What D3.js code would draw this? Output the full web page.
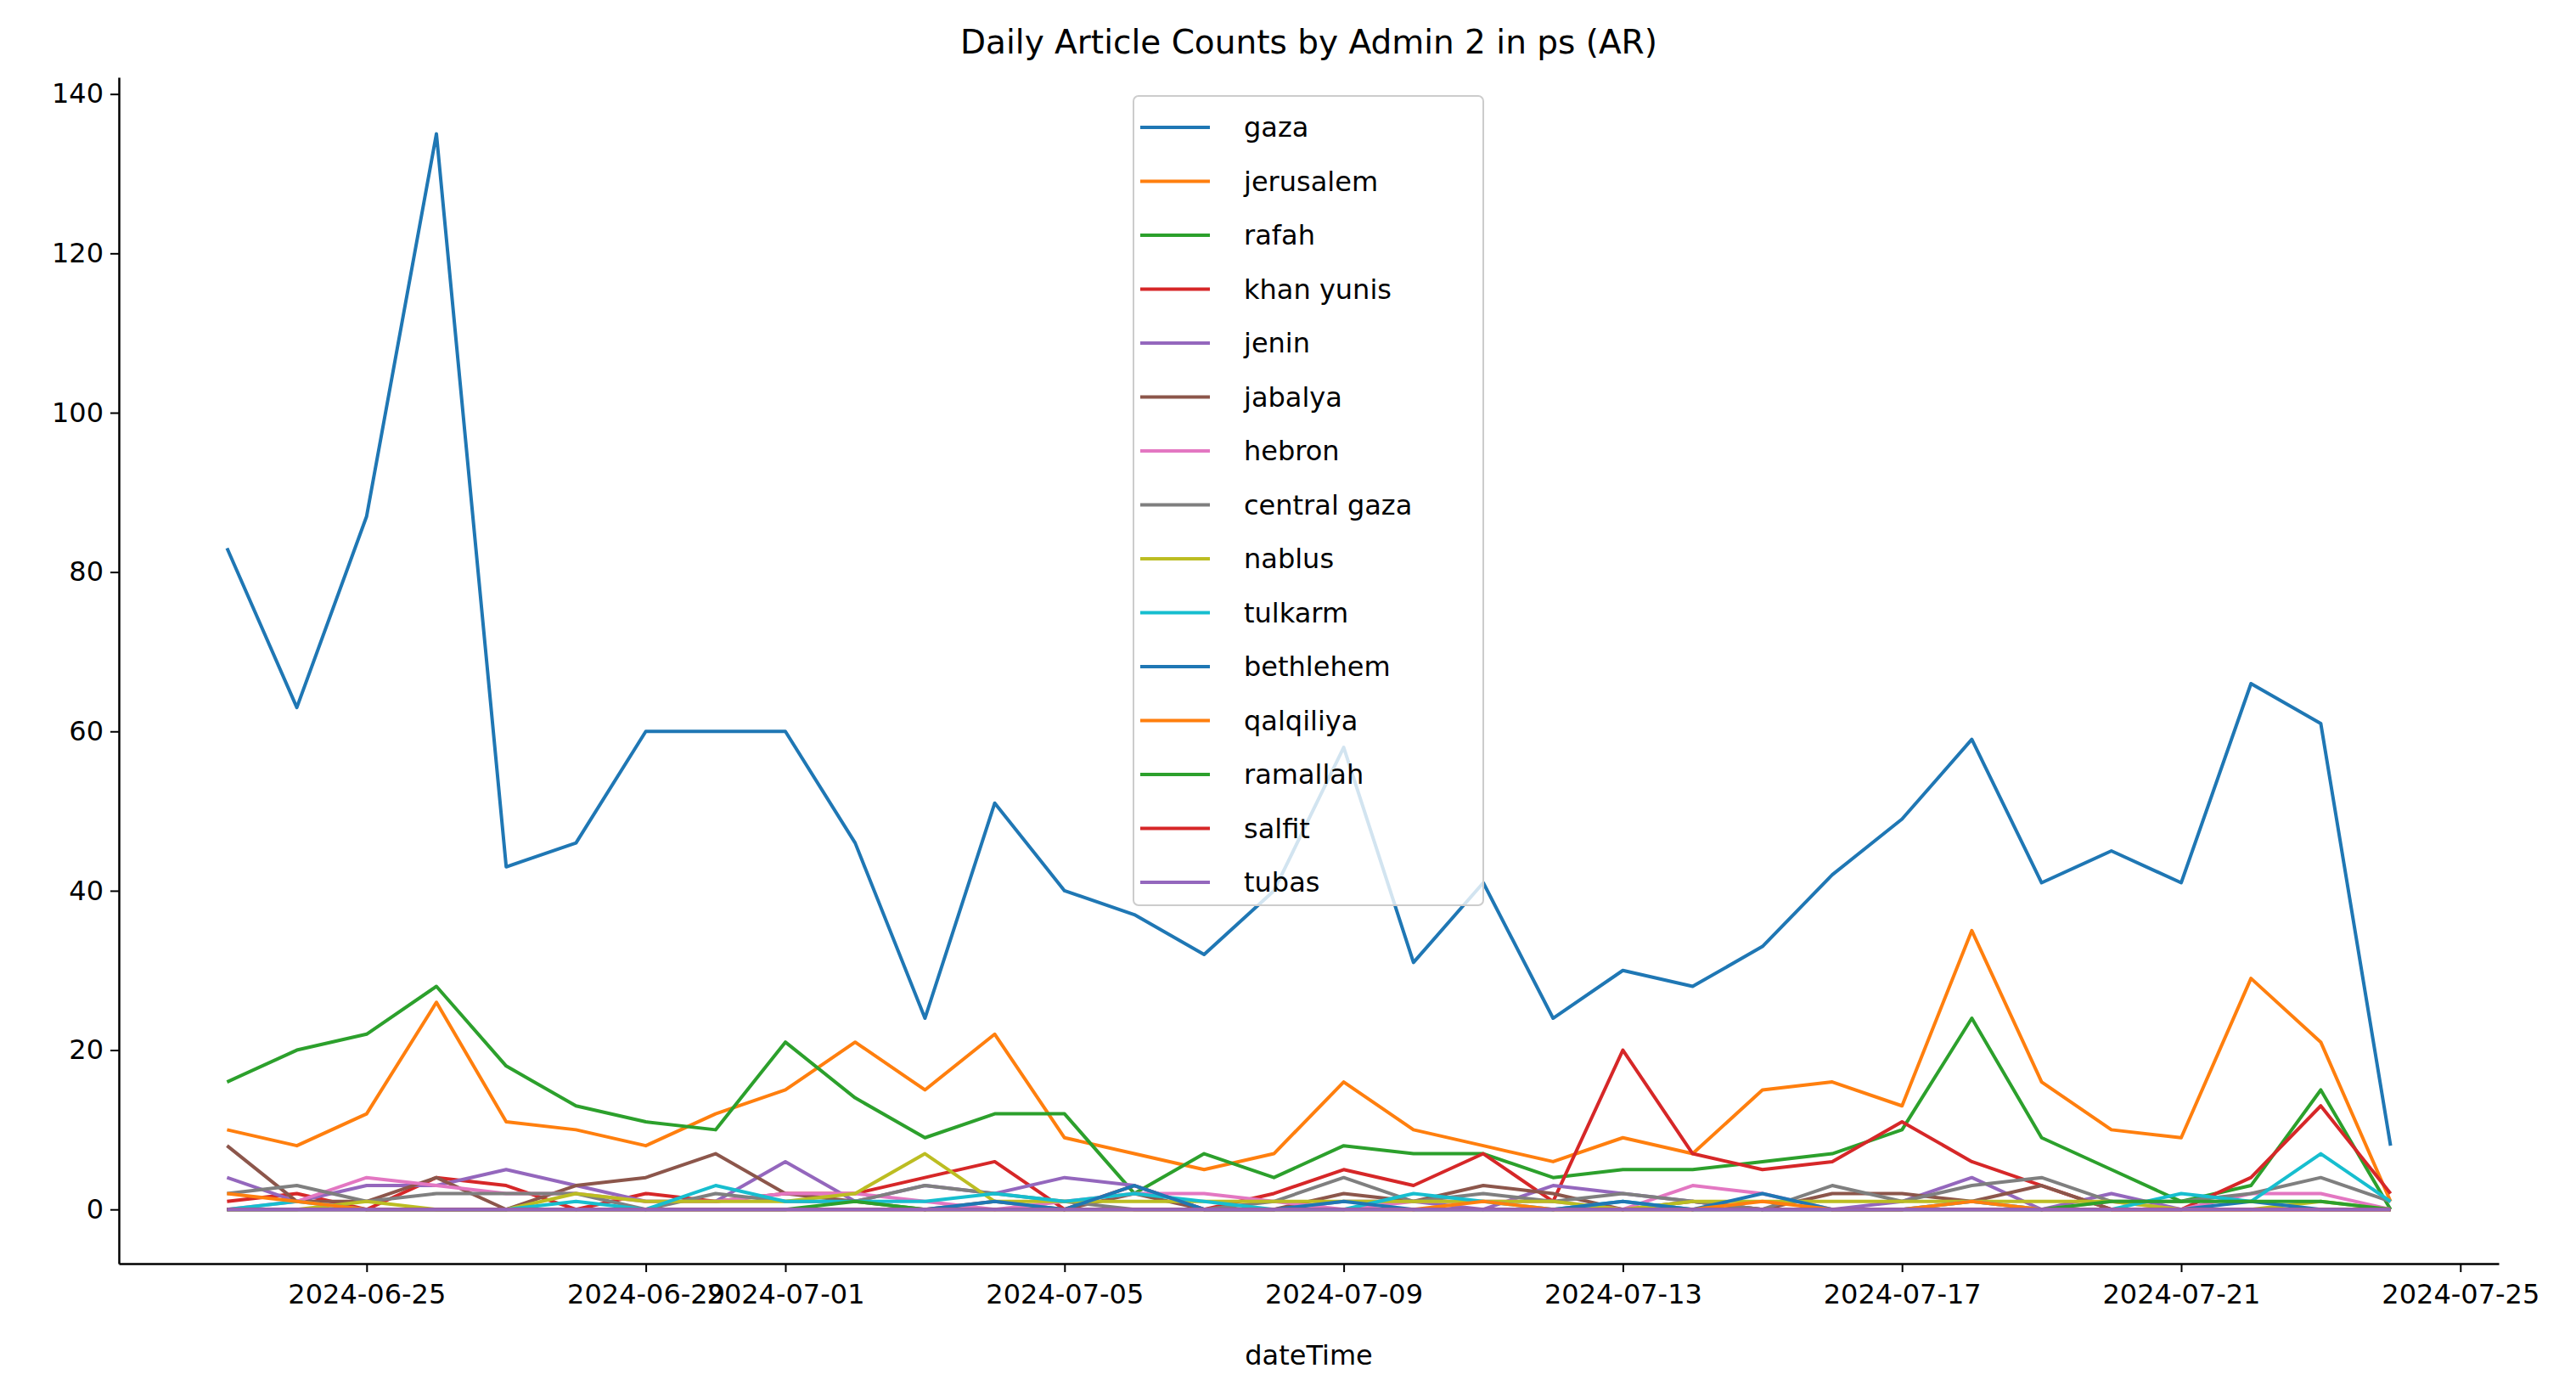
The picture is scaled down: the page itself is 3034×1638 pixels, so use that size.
<!DOCTYPE html>
<html><head><meta charset="utf-8">
<script src="https://cdn.jsdelivr.net/npm/d3@7"></script>
<style>body{margin:0;background:#fff}text{font-family:"DejaVu Sans",sans-serif}</style>
</head><body><svg id="c" width="3034" height="1638"></svg>
<script>
// data
const startDate = "2024-06-23";
const seriesNames = ["gaza","jerusalem","rafah","khan yunis","jenin","jabalya","hebron","central gaza","nablus","tulkarm","bethlehem","qalqiliya","ramallah","salfit","tubas"];
const colors = ["#1f77b4","#ff7f0e","#2ca02c","#d62728","#9467bd","#8c564b","#e377c2","#7f7f7f","#bcbd22","#17becf","#1f77b4","#ff7f0e","#2ca02c","#d62728","#9467bd"];
const gaza = [83,63,87,135,43,46,60,60,60,46,24,51,40,37,32,40,58,31,41,24,30,28,33,42,49,59,41,45,41,66,61,8];
const jerusalem = [10,8,12,26,11,10,8,12,15,21,15,22,9,7,5,7,16,10,8,6,9,7,15,16,13,35,16,10,9,29,21,1];
const rafah = [16,20,22,28,18,13,11,10,21,14,9,12,12,2,7,4,8,7,7,4,5,5,6,7,10,24,9,5,1,3,15,0];
const khanYunis = [1,2,0,4,3,0,2,1,2,2,4,6,0,3,0,2,5,3,7,1,20,7,5,6,11,6,3,0,0,4,13,2];
const jenin = [4,1,3,3,5,3,1,1,6,1,3,2,4,3,0,0,1,1,0,3,2,1,0,0,1,4,0,2,0,0,0,0];
const jabalya = [8,1,1,4,0,3,4,7,2,1,0,1,0,2,0,0,2,1,3,2,0,1,0,2,2,1,3,0,0,0,0,0];
const hebron = [0,1,4,3,2,2,1,1,2,2,1,0,1,2,2,1,0,1,1,1,0,3,2,0,0,1,0,1,0,2,2,0];
const centralGaza = [2,3,1,2,2,2,0,2,1,1,3,2,1,0,0,1,4,1,2,1,2,1,0,3,1,3,4,1,1,2,4,1];
const nablus = [0,0,1,0,0,2,1,1,1,2,7,1,1,1,1,1,1,1,1,1,0,1,1,1,1,1,1,1,0,0,1,0];
const tulkarm = [0,1,0,0,0,1,0,3,1,1,1,2,1,2,1,0,0,2,1,0,1,0,0,0,0,1,0,0,2,1,7,1];
const bethlehem = [0,0,0,0,0,0,0,0,0,0,0,1,0,3,0,0,1,0,0,0,1,0,2,0,0,0,0,0,0,1,0,0];
const qalqiliya = [2,1,0,0,0,0,0,0,0,0,0,0,0,0,0,0,0,0,1,0,0,0,1,0,0,1,0,0,0,0,0,0];
const ramallah = [0,0,0,0,0,0,0,0,0,1,0,0,0,0,0,0,0,0,0,0,0,0,0,0,0,0,0,1,1,1,1,0];
const salfit = [0,0,0,0,0,0,0,0,0,0,0,0,0,0,0,0,0,0,0,0,0,0,0,0,0,0,0,0,0,0,0,0];
const tubas = [0,0,0,0,0,0,0,0,0,0,0,0,0,0,0,0,0,0,0,0,0,0,0,0,0,0,0,0,0,0,0,0];
const allSeries = [gaza,jerusalem,rafah,khanYunis,jenin,jabalya,hebron,centralGaza,nablus,tulkarm,bethlehem,qalqiliya,ramallah,salfit,tubas];
const tickLabels = ["2024-06-25","2024-06-29","2024-07-01","2024-07-05","2024-07-09","2024-07-13","2024-07-17","2024-07-21","2024-07-25"];
const yTicks = [0,20,40,60,80,100,120,140];

const parse = d3.utcParse("%Y-%m-%d");
const t0 = parse(startDate);
const dates = gaza.map((_, i) => d3.utcDay.offset(t0, i));

const svg = d3.select("#c");
const L = 140, R = 2943, T = 91, B = 1488;
const day = 86400000;
const x = d3.scaleUtc().domain([new Date(+t0 - 1.55*day), new Date(+dates[dates.length-1] + 1.55*day)]).range([L, R]);
const y = d3.scaleLinear().domain([-6.8, 142.1]).range([B, T]);

// lines (draw in order so later ones on top)
const line = d3.line().x((d, i) => x(dates[i])).y(d => y(d));
allSeries.forEach((s, k) => {
  svg.append("path").attr("d", line(s)).attr("fill", "none")
    .attr("stroke", colors[k]).attr("stroke-width", 4).attr("stroke-linejoin", "round");
});

// axes
const xAxis = d3.axisBottom(x).tickValues(tickLabels.map(parse)).tickFormat(d3.utcFormat("%Y-%m-%d")).tickSize(10).tickSizeOuter(0).tickPadding(8);
const gx = svg.append("g").attr("transform", `translate(0,${B})`).call(xAxis);
const yAxis = d3.axisLeft(y).tickValues(yTicks).tickSize(10).tickSizeOuter(0).tickPadding(8);
const gy = svg.append("g").attr("transform", `translate(${L},0)`).call(yAxis);
[gx, gy].forEach(g => {
  g.select(".domain").attr("stroke", "#000").attr("stroke-width", 2.5);
  g.selectAll(".tick line").attr("stroke", "#000").attr("stroke-width", 2);
  g.selectAll("text").attr("font-size", 32).attr("fill", "#000").attr("font-family", "DejaVu Sans");
});
gx.selectAll("text").attr("dy", "0.9em");

svg.append("text").attr("x", (L + R) / 2).attr("y", 63).attr("text-anchor", "middle")
  .attr("font-size", 39).text("Daily Article Counts by Admin 2 in ps (AR)");
svg.append("text").attr("x", (L + R) / 2).attr("y", 1607).attr("text-anchor", "middle")
  .attr("font-size", 32).text("dateTime");

// legend
const lg = svg.append("g").attr("transform", "translate(1335,113)");
lg.append("rect").attr("width", 412).attr("height", 953).attr("rx", 6)
  .attr("fill", "#fff").attr("fill-opacity", 0.8).attr("stroke", "#ccc").attr("stroke-width", 2);
seriesNames.forEach((n, i) => {
  const yy = 37 + i * 63.5;
  lg.append("line").attr("x1", 8).attr("x2", 90).attr("y1", yy).attr("y2", yy)
    .attr("stroke", colors[i]).attr("stroke-width", 4);
  lg.append("text").attr("x", 130).attr("y", yy + 11).attr("font-size", 32).text(n);
});
</script></body></html>
